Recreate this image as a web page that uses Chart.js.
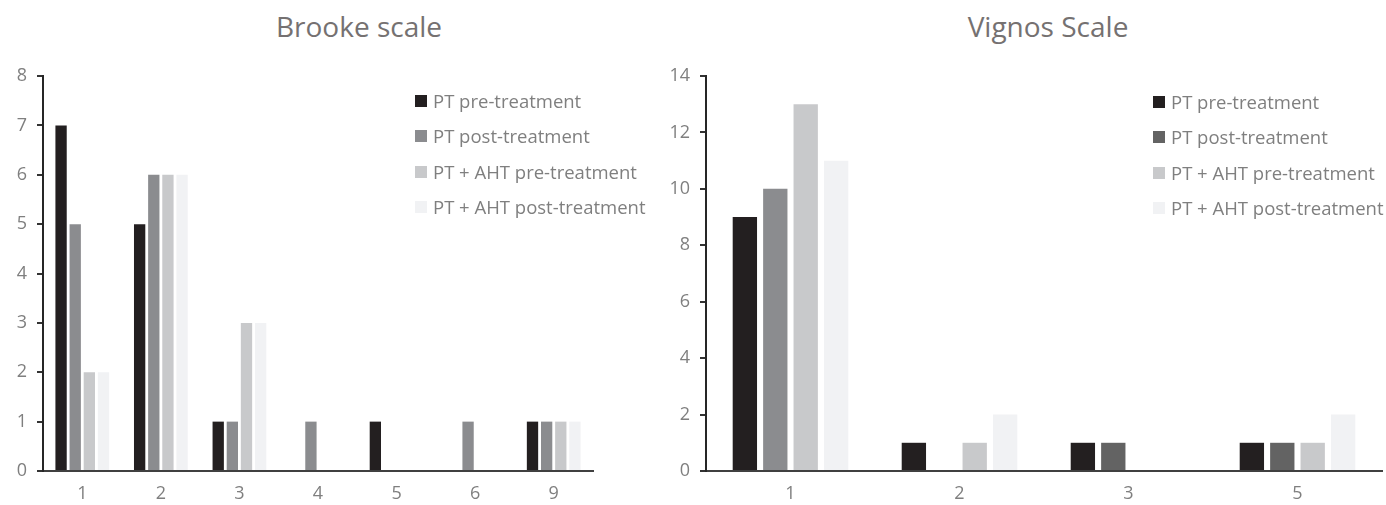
<!DOCTYPE html>
<html>
<head>
<meta charset="utf-8">
<script src="https://cdn.jsdelivr.net/npm/chart.js@4"></script>
<style>
  body { margin: 0; background: #fff; width: 1386px; height: 505px; position: relative; overflow: hidden; font-family: "Open Sans", sans-serif; }
  .box { position: absolute; top: 0; height: 505px; }
  .title { position: absolute; top: 7px; font-size: 28px; color: #757171; white-space: nowrap; transform: translateX(-50%); }
  .legend { position: absolute; font-size: 18.5px; color: #7f7f7f; }
  .legend div { height: 35.3px; line-height: 22px; white-space: nowrap; display: flex; align-items: flex-start; }
  .legend span.sw { display: inline-block; width: 12px; height: 12px; margin: 5px 6px 0 0; }
</style>
</head>
<body>
<div class="title" style="left:359px">Brooke scale</div>
<div class="title" style="left:1048px">Vignos Scale</div>
<div class="box" style="left:0;width:660px"><canvas id="brooke"></canvas></div>
<div class="box" style="left:660px;width:726px"><canvas id="vignos"></canvas></div>
<div class="legend" id="legBrooke" style="left:415px;top:90px"></div>
<div class="legend" id="legVignos" style="left:1153px;top:91px"></div>
<script>
const seriesNames = ['PT pre-treatment', 'PT post-treatment', 'PT + AHT pre-treatment', 'PT + AHT post-treatment'];

const brookeLabels = ['1', '2', '3', '4', '5', '6', '9'];
const brookePtPre = [7, 5, 1, 0, 1, 0, 1];
const brookePtPost = [5, 6, 1, 1, 0, 1, 1];
const brookeAhtPre = [2, 6, 3, 0, 0, 0, 1];
const brookeAhtPost = [2, 6, 3, 0, 0, 0, 1];
const brookeTicks = [0, 1, 2, 3, 4, 5, 6, 7, 8];

const vignosLabels = ['1', '2', '3', '5'];
const vignosPtPre = [9, 1, 1, 1];
const vignosPtPost = [10, 0, 1, 1];
const vignosAhtPre = [13, 1, 0, 1];
const vignosAhtPost = [11, 2, 0, 2];
const vignosTicks = [0, 2, 4, 6, 8, 10, 12, 14];

const colors = ['#231f20', '#8b8c8f', '#c8c9cb', '#f1f2f4'];
const vignosPostColors = ['#8b8c8f', '#636363', '#636363', '#636363'];
const vignosLegendColors = ['#231f20', '#636363', '#c8c9cb', '#f1f2f4'];

function makeChart(id, labels, series, ticks, opts) {
  const ctx = document.getElementById(id).getContext('2d');
  return new Chart(ctx, {
    type: 'bar',
    data: {
      labels: labels,
      datasets: series.map((s, i) => ({
        label: seriesNames[i],
        data: s,
        backgroundColor: (opts.barColors && opts.barColors[i]) || colors[i],
        barPercentage: 0.8,
        categoryPercentage: opts.catPct
      }))
    },
    options: {
      responsive: true,
      maintainAspectRatio: false,
      animation: false,
      layout: { padding: { left: 0, right: opts.padRight, top: 76, bottom: 0 } },
      plugins: { legend: { display: false }, title: { display: false }, tooltip: { enabled: false } },
      scales: {
        x: {
          grid: { display: false },
          border: { display: true, color: '#404040', width: 2 },
          ticks: { color: '#7f7f7f', font: { family: 'Open Sans', size: 18 }, padding: 4 },
          afterFit: s => { s.height = 34; }
        },
        y: {
          min: 0,
          max: ticks[ticks.length - 1],
          afterBuildTicks: s => { s.ticks = ticks.map(v => ({ value: v })); },
          grid: { drawOnChartArea: false, drawTicks: true, tickLength: 6, color: '#333', lineWidth: 2 },
          border: { display: true, color: '#262626', width: 2 },
          ticks: { color: '#7f7f7f', font: { family: 'Open Sans', size: 18 }, padding: 10 },
          afterFit: s => { s.width = opts.yWidth; }
        }
      }
    }
  });
}

function makeLegend(id, legendColors) {
  const el = document.getElementById(id);
  seriesNames.forEach((name, i) => {
    const row = document.createElement('div');
    row.innerHTML = `<span class="sw" style="background:${legendColors[i]}"></span>${name}`;
    el.appendChild(row);
  });
}

makeChart('brooke', brookeLabels, [brookePtPre, brookePtPost, brookeAhtPre, brookeAhtPost], brookeTicks,
  { catPct: 0.72, padRight: 67, yWidth: 43 });
makeChart('vignos', vignosLabels, [vignosPtPre, vignosPtPost, vignosAhtPre, vignosAhtPost], vignosTicks,
  { catPct: 0.72, padRight: 4, yWidth: 46, barColors: [null, vignosPostColors, null, null] });
makeLegend('legBrooke', colors);
makeLegend('legVignos', vignosLegendColors);
</script>
</body>
</html>
